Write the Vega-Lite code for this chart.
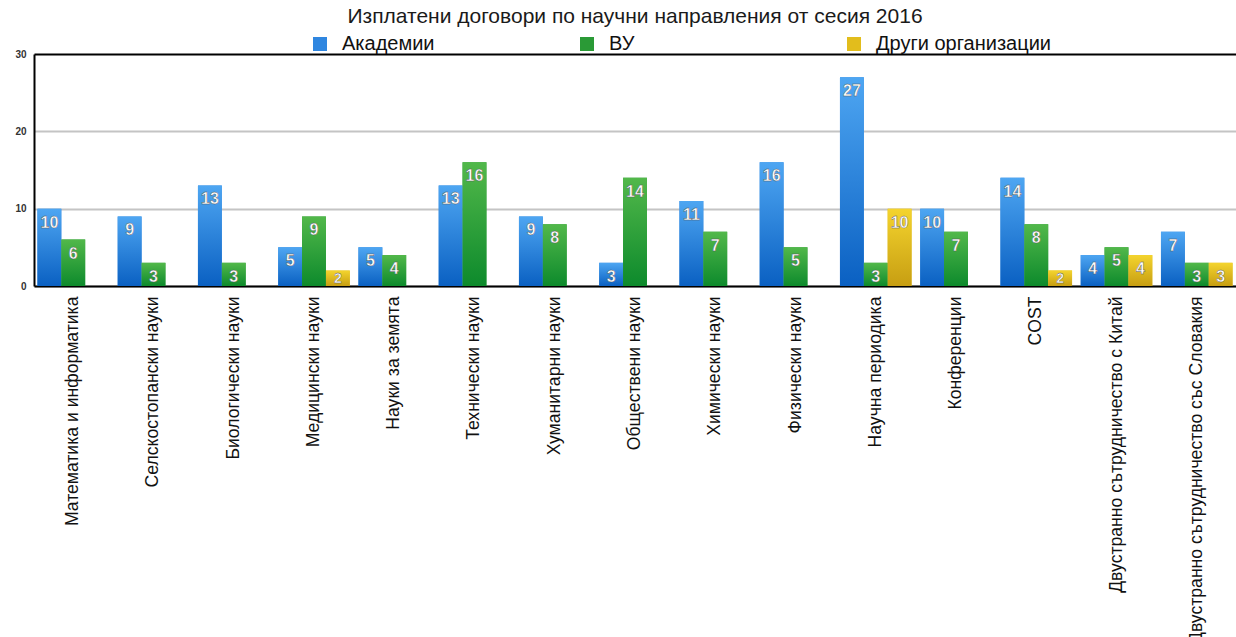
{
  "$schema": "https://vega.github.io/schema/vega-lite/v6.json",
  "width": 1202,
  "height": 232,
  "autosize": {"type": "none"},
  "padding": {"left": 34, "top": 54, "right": 0, "bottom": 351},
  "background": "white",
  "title": {"text": "Изплатени договори по научни направления от сесия 2016", "font": "Liberation Sans", "fontSize": 21, "fontWeight": "normal", "color": "#1a1a1a", "anchor": "middle", "offset": 7},
  "config": {"view": {"stroke": null}},
  "data": {"values": [
    {"category": "Математика и информатика", "series": "Академии", "value": 10},
    {"category": "Математика и информатика", "series": "ВУ", "value": 6},
    {"category": "Математика и информатика", "series": "Други организации", "value": 0},
    {"category": "Селскостопански науки", "series": "Академии", "value": 9},
    {"category": "Селскостопански науки", "series": "ВУ", "value": 3},
    {"category": "Селскостопански науки", "series": "Други организации", "value": 0},
    {"category": "Биологически науки", "series": "Академии", "value": 13},
    {"category": "Биологически науки", "series": "ВУ", "value": 3},
    {"category": "Биологически науки", "series": "Други организации", "value": 0},
    {"category": "Медицински науки", "series": "Академии", "value": 5},
    {"category": "Медицински науки", "series": "ВУ", "value": 9},
    {"category": "Медицински науки", "series": "Други организации", "value": 2},
    {"category": "Науки за земята", "series": "Академии", "value": 5},
    {"category": "Науки за земята", "series": "ВУ", "value": 4},
    {"category": "Науки за земята", "series": "Други организации", "value": 0},
    {"category": "Технически науки", "series": "Академии", "value": 13},
    {"category": "Технически науки", "series": "ВУ", "value": 16},
    {"category": "Технически науки", "series": "Други организации", "value": 0},
    {"category": "Хуманитарни науки", "series": "Академии", "value": 9},
    {"category": "Хуманитарни науки", "series": "ВУ", "value": 8},
    {"category": "Хуманитарни науки", "series": "Други организации", "value": 0},
    {"category": "Обществени науки", "series": "Академии", "value": 3},
    {"category": "Обществени науки", "series": "ВУ", "value": 14},
    {"category": "Обществени науки", "series": "Други организации", "value": 0},
    {"category": "Химически науки", "series": "Академии", "value": 11},
    {"category": "Химически науки", "series": "ВУ", "value": 7},
    {"category": "Химически науки", "series": "Други организации", "value": 0},
    {"category": "Физически науки", "series": "Академии", "value": 16},
    {"category": "Физически науки", "series": "ВУ", "value": 5},
    {"category": "Физически науки", "series": "Други организации", "value": 0},
    {"category": "Научна периодика", "series": "Академии", "value": 27},
    {"category": "Научна периодика", "series": "ВУ", "value": 3},
    {"category": "Научна периодика", "series": "Други организации", "value": 10},
    {"category": "Конференции", "series": "Академии", "value": 10},
    {"category": "Конференции", "series": "ВУ", "value": 7},
    {"category": "Конференции", "series": "Други организации", "value": 0},
    {"category": "COST", "series": "Академии", "value": 14},
    {"category": "COST", "series": "ВУ", "value": 8},
    {"category": "COST", "series": "Други организации", "value": 2},
    {"category": "Двустранно сътрудничество с Китай", "series": "Академии", "value": 4},
    {"category": "Двустранно сътрудничество с Китай", "series": "ВУ", "value": 5},
    {"category": "Двустранно сътрудничество с Китай", "series": "Други организации", "value": 4},
    {"category": "Двустранно сътрудничество със Словакия", "series": "Академии", "value": 7},
    {"category": "Двустранно сътрудничество със Словакия", "series": "ВУ", "value": 3},
    {"category": "Двустранно сътрудничество със Словакия", "series": "Други организации", "value": 3}
  ]},
  "transform": [{"filter": "datum.value > 0"}],
  "encoding": {
    "x": {"field": "category", "type": "nominal", "sort": null,
      "scale": {"paddingInner": 0.108, "paddingOuter": 0.043},
      "axis": {"title": null, "labelAngle": -90, "labelFont": "Liberation Sans", "labelFontSize": 17.6, "labelColor": "#111", "labelPadding": 10, "labelLimit": 1000, "ticks": false, "domainColor": "#000", "domainWidth": 2}},
    "xOffset": {"field": "series", "type": "nominal", "scale": {"domain": ["Академии", "ВУ", "Други организации"], "paddingInner": 0, "paddingOuter": 0}},
    "y": {"field": "value", "type": "quantitative",
      "scale": {"domain": [0, 30], "nice": false},
      "axis": {"title": null, "values": [0, 10, 20, 30], "ticks": false, "labelFont": "Liberation Sans", "labelFontSize": 10, "labelFontWeight": "bold", "labelColor": "#333", "labelPadding": 8, "domainColor": "#000", "domainWidth": 2, "grid": true, "gridColor": {"condition": {"test": "datum.value === 30", "value": "#000"}, "value": "#c4c4c4"}, "gridWidth": 2}}
  },
  "layer": [
    {
      "mark": {"type": "bar"},
      "encoding": {
        "color": {"field": "series", "type": "nominal",
          "scale": {"domain": ["Академии", "ВУ", "Други организации"], "range": ["#2f86e0", "#2a9a36", "#e2bd1c"]},
          "legend": {"title": null, "orient": "none", "direction": "horizontal", "legendX": 276, "legendY": -20, "symbolType": "square", "symbolSize": 196, "symbolStrokeWidth": 0, "labelFont": "Liberation Sans", "labelFontSize": 20, "labelColor": "#111", "labelOffset": 12, "gridAlign": "all", "columnPadding": 60, "labelLimit": 400}}
      }
    },
    {
      "transform": [{"filter": "datum.series === 'Академии'"}],
      "mark": {"type": "bar", "color": {"gradient": "linear", "x1": 0, "y1": 0, "x2": 0, "y2": 1, "stops": [{"offset": 0, "color": "#4ea6f2"}, {"offset": 1, "color": "#0a60c2"}]}}
    },
    {
      "transform": [{"filter": "datum.series === 'ВУ'"}],
      "mark": {"type": "bar", "color": {"gradient": "linear", "x1": 0, "y1": 0, "x2": 0, "y2": 1, "stops": [{"offset": 0, "color": "#52b84a"}, {"offset": 1, "color": "#0d8a2c"}]}}
    },
    {
      "transform": [{"filter": "datum.series === 'Други организации'"}],
      "mark": {"type": "bar", "color": {"gradient": "linear", "x1": 0, "y1": 0, "x2": 0, "y2": 1, "stops": [{"offset": 0, "color": "#f4d42e"}, {"offset": 1, "color": "#c79e12"}]}}
    },
    {
      "transform": [{"filter": "datum.value >= 3"}],
      "mark": {"type": "text", "baseline": "top", "dy": 6, "font": "Liberation Sans", "fontSize": 16, "fontWeight": "bold", "color": "white", "stroke": "#555", "strokeWidth": 0.4},
      "encoding": {"text": {"field": "value", "type": "quantitative"}}
    },
    {
      "transform": [{"filter": "datum.value < 3"}],
      "mark": {"type": "text", "baseline": "top", "dy": 1, "font": "Liberation Sans", "fontSize": 14, "fontWeight": "bold", "color": "white", "stroke": "#555", "strokeWidth": 0.4},
      "encoding": {"text": {"field": "value", "type": "quantitative"}}
    }
  ]
}
